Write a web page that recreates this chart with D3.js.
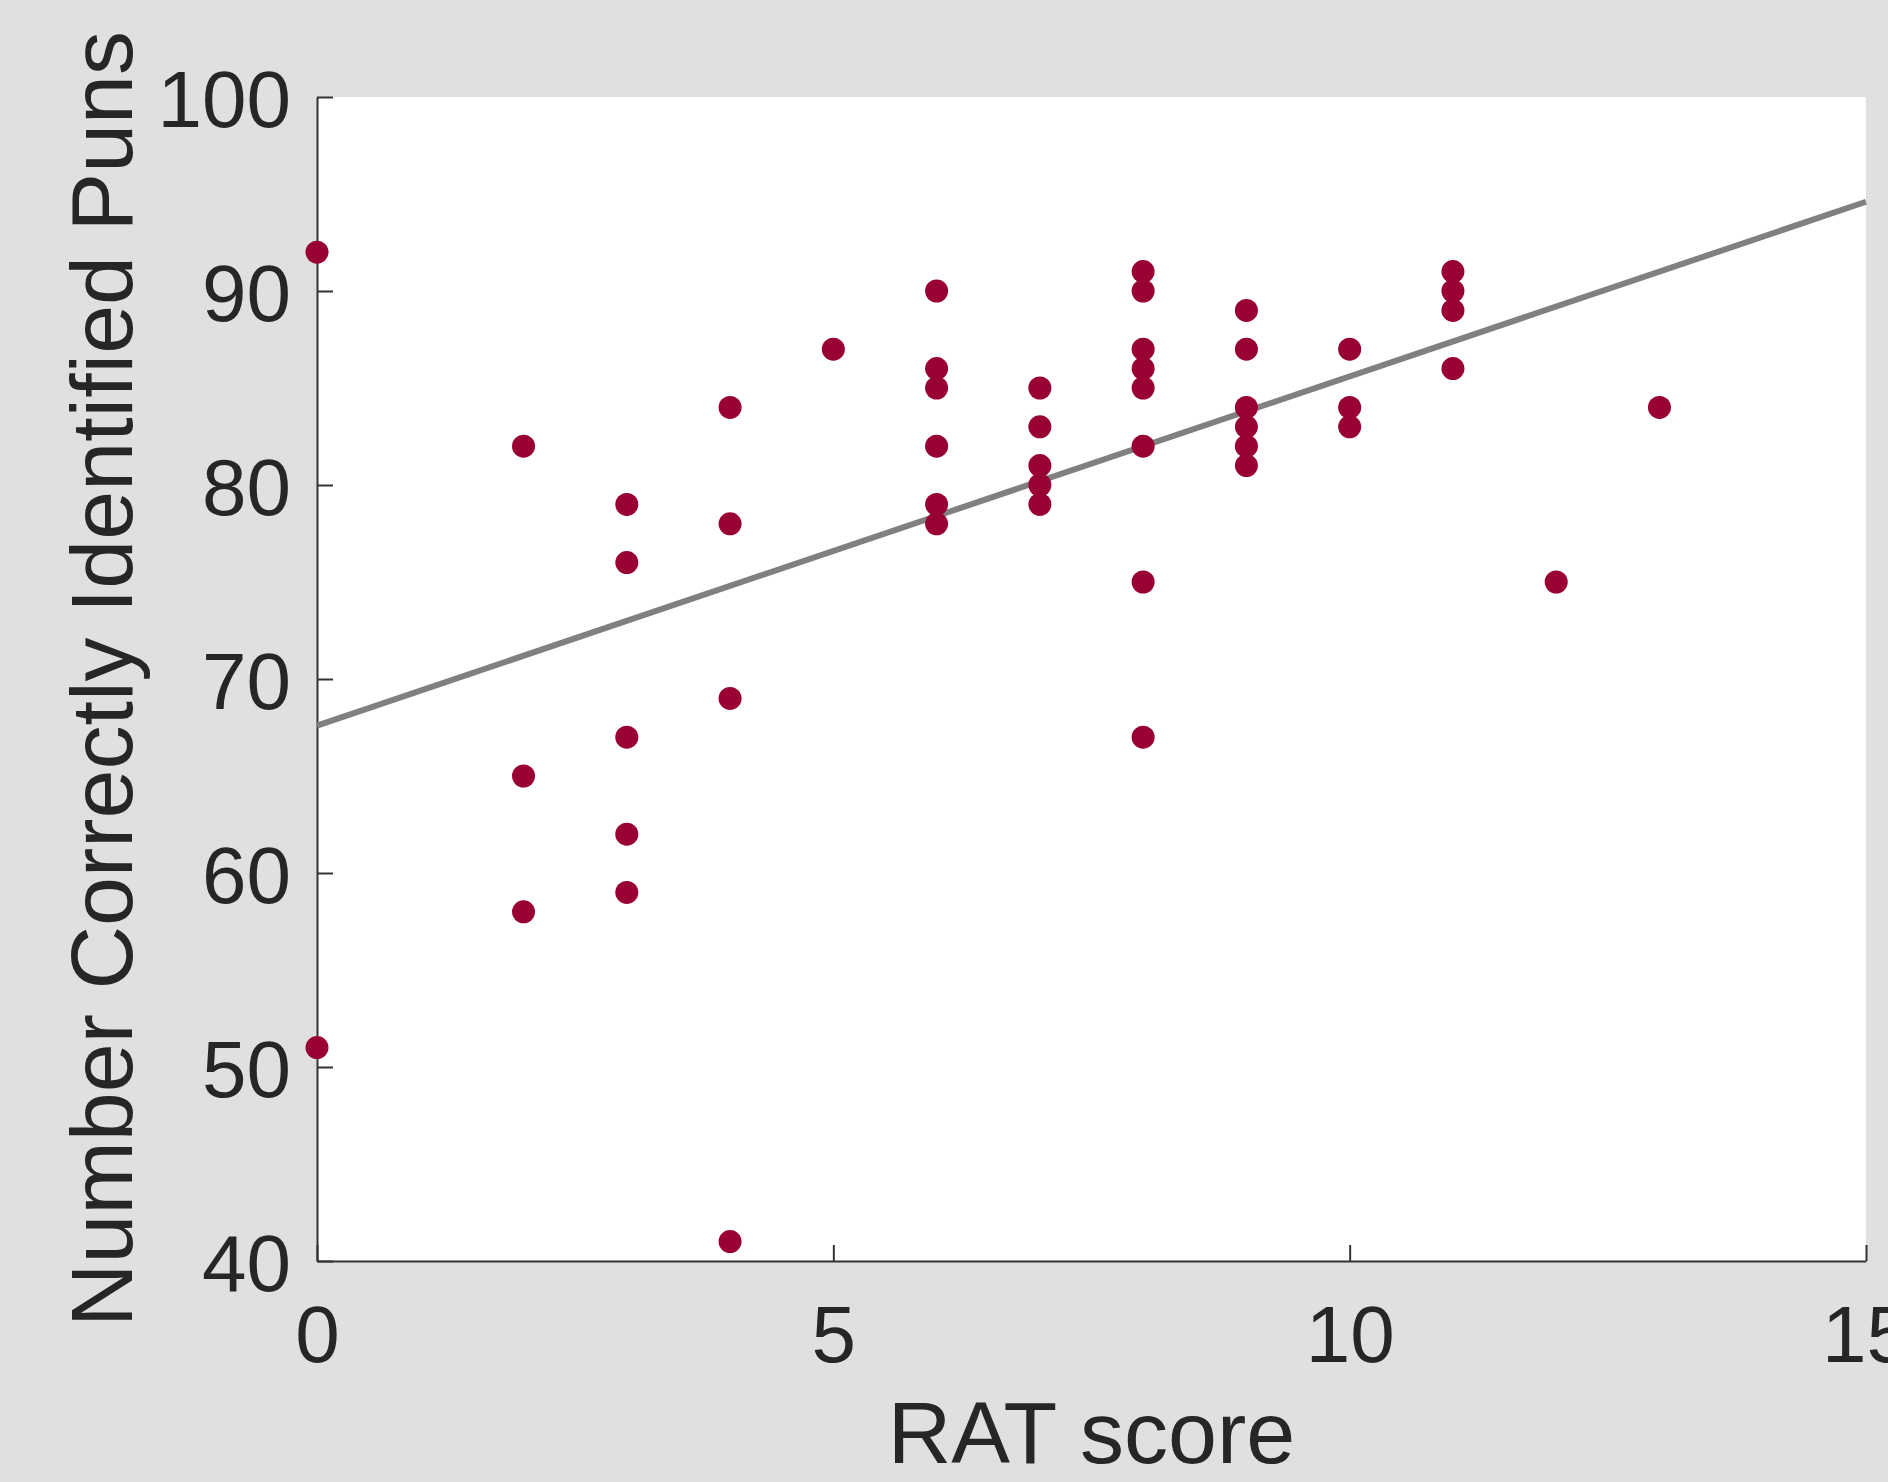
<!DOCTYPE html>
<html>
<head>
<meta charset="utf-8">
<script src="https://cdn.jsdelivr.net/npm/d3@7"></script>
<style>
  html, body { margin: 0; padding: 0; background: #e0e0e0; }
  svg { display: block; }
  text { font-family: "Liberation Sans", Arial, sans-serif; fill: #262626; }
</style>
</head>
<body>
<svg id="chart" width="1888" height="1482"></svg>
<script>
// RAT score (x) and number of correctly identified puns (y)
const ratScores = [0, 0,
  2, 2, 2,
  3, 3, 3, 3, 3,
  4, 4, 4, 4,
  5,
  6, 6, 6, 6, 6, 6,
  7, 7, 7, 7, 7,
  8, 8, 8, 8, 8, 8, 8, 8,
  9, 9, 9, 9, 9, 9,
  10, 10, 10,
  11, 11, 11, 11,
  12,
  13];
const punsCorrect = [92, 51,
  82, 65, 58,
  79, 76, 67, 62, 59,
  84, 78, 69, 41,
  87,
  90, 86, 85, 82, 79, 78,
  85, 83, 81, 80, 79,
  91, 90, 87, 86, 85, 82, 75, 67,
  89, 87, 84, 83, 82, 81,
  87, 84, 83,
  91, 90, 89, 86,
  75,
  84];
// fitted line endpoints
const fitX = [0, 15];
const fitY = [67.6, 94.6];
const xTicks = [0, 5, 10, 15];
const yTicks = [40, 50, 60, 70, 80, 90, 100];
const xLabel = "RAT score";
const yLabel = "Number Correctly Identified Puns";

const svg = d3.select("#chart");
const L = 317, R = 1866, T = 97, B = 1261;

const x = d3.scaleLinear().domain([0, 15]).range([L, R]);
const y = d3.scaleLinear().domain([40, 100]).range([B, T]);

svg.append("rect").attr("x", L).attr("y", T).attr("width", R - L).attr("height", B - T).attr("fill", "#ffffff");

const axisColor = "#333333";

const gx = svg.append("g").attr("transform", `translate(0,${B})`)
  .call(d3.axisBottom(x).tickValues(xTicks).tickFormat(d3.format("d"))
    .tickSizeInner(-16).tickSizeOuter(0).tickPadding(44));
const gy = svg.append("g").attr("transform", `translate(${L},0)`)
  .call(d3.axisLeft(y).tickValues(yTicks).tickFormat(d3.format("d"))
    .tickSizeInner(-16).tickSizeOuter(0).tickPadding(26));

[gx, gy].forEach(g => {
  g.select(".domain").attr("stroke", axisColor).attr("stroke-width", 2);
  g.selectAll(".tick line").attr("stroke", axisColor).attr("stroke-width", 2);
  g.selectAll(".tick text").attr("font-size", 80).attr("fill", "#262626")
    .attr("font-family", '"Liberation Sans", Arial, sans-serif');
});
gy.selectAll(".tick text").attr("dy", "0.37em");

// fit line
const lineData = fitX.map((d, i) => [d, fitY[i]]);
svg.append("path")
  .datum(lineData)
  .attr("d", d3.line().x(d => x(d[0])).y(d => y(d[1])))
  .attr("stroke", "#808080")
  .attr("stroke-width", 6)
  .attr("fill", "none");

// points
svg.append("g").selectAll("circle")
  .data(ratScores.map((d, i) => [d, punsCorrect[i]]))
  .join("circle")
  .attr("cx", d => x(d[0]))
  .attr("cy", d => y(d[1]))
  .attr("r", 11.5)
  .attr("fill", "#990033");

// axis labels
svg.append("text")
  .attr("x", (L + R) / 2).attr("y", 1463)
  .attr("text-anchor", "middle").attr("font-size", 88)
  .text(xLabel);
svg.append("text")
  .attr("transform", `translate(132,${(T + B) / 2}) rotate(-90)`)
  .attr("text-anchor", "middle").attr("font-size", 88)
  .text(yLabel);
</script>
</body>
</html>
